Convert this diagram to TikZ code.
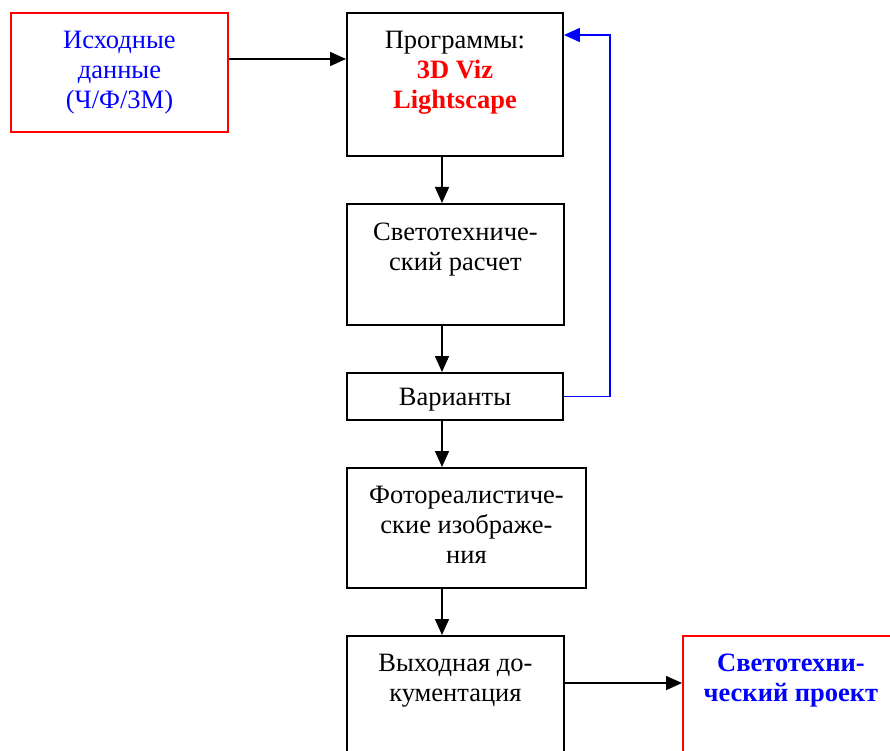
\documentclass[tikz,border=0pt]{standalone}
\usepackage{fontspec}
\setmainfont{Liberation Serif}
\usetikzlibrary{arrows.meta}
\begin{document}
\begin{tikzpicture}[x=1pt,y=-1pt,
  box/.style={draw=black,line width=1.9pt,fill=white,inner sep=0pt,anchor=north west},
  redbox/.style={box,draw=red},
  txt/.style={font=\fontsize{26.5}{30}\selectfont,align=center,inner sep=0pt,anchor=north},
  arr/.style={line width=1.6pt,-{Triangle[length=16pt,width=14pt]}},
  barr/.style={arr,draw=blue}]
\useasboundingbox (0,0) rectangle (890,751);
\clip (0,0) rectangle (890,751);
% boxes
\node[redbox,minimum width=217pt,minimum height=119pt] (b1) at (10,12) {};
\node[box,minimum width=216pt,minimum height=143pt] (b2) at (346,12) {};
\node[box,minimum width=217pt,minimum height=121pt] (b3) at (346,203) {};
\node[box,minimum width=216pt,minimum height=47pt] (b4) at (346,372) {};
\node[box,minimum width=239pt,minimum height=120pt] (b5) at (346,467) {};
\node[box,minimum width=217pt,minimum height=160pt] (b6) at (346,635) {};
\node[redbox,minimum width=216pt,minimum height=160pt] (b7) at (682,635) {};
% texts
\node[txt,text=blue] (t1) at ([yshift=-19pt]b1.north) {Исходные\\данные\\(Ч/Ф/3М)};
\node[txt] (t2) at ([yshift=-19pt]b2.north) {Программы:\\{\color{red}\bfseries 3D Viz}\\{\color{red}\bfseries Lightscape}};
\node[txt] (t3) at ([yshift=-20pt]b3.north) {Светотехниче-\\ский расчет};
\node[txt] (t4) at ([yshift=-16pt]b4.north) {Варианты};
\node[txt] (t5) at ([yshift=-19pt]b5.north) {Фотореалистиче-\\ские изображе-\\ния};
\node[txt] (t6) at ([yshift=-19pt]b6.north) {Выходная до-\\кументация};
\node[txt,text=blue,font=\fontsize{26.5}{30}\selectfont\bfseries] (t7) at ([yshift=-19pt]b7.north) {Светотехни-\\ческий проект};
% connectors
\coordinate (ax) at (442,0);
\coordinate (hy1) at (0,59);
\coordinate (hy2) at (0,683);
\coordinate (fb) at (610,35);
\draw[arr] (b1.east |- hy1) -- (b2.west |- hy1);
\draw[arr] (b2.south -| ax) -- (b3.north -| ax);
\draw[arr] (b3.south -| ax) -- (b4.north -| ax);
\draw[arr] (b4.south -| ax) -- (b5.north -| ax);
\draw[arr] (b5.south -| ax) -- (b6.north -| ax);
\draw[arr] (b6.east |- hy2) -- (b7.west |- hy2);
\draw[barr] (b4.east) -| (fb) -- (b2.east |- fb);
\end{tikzpicture}
\end{document}
